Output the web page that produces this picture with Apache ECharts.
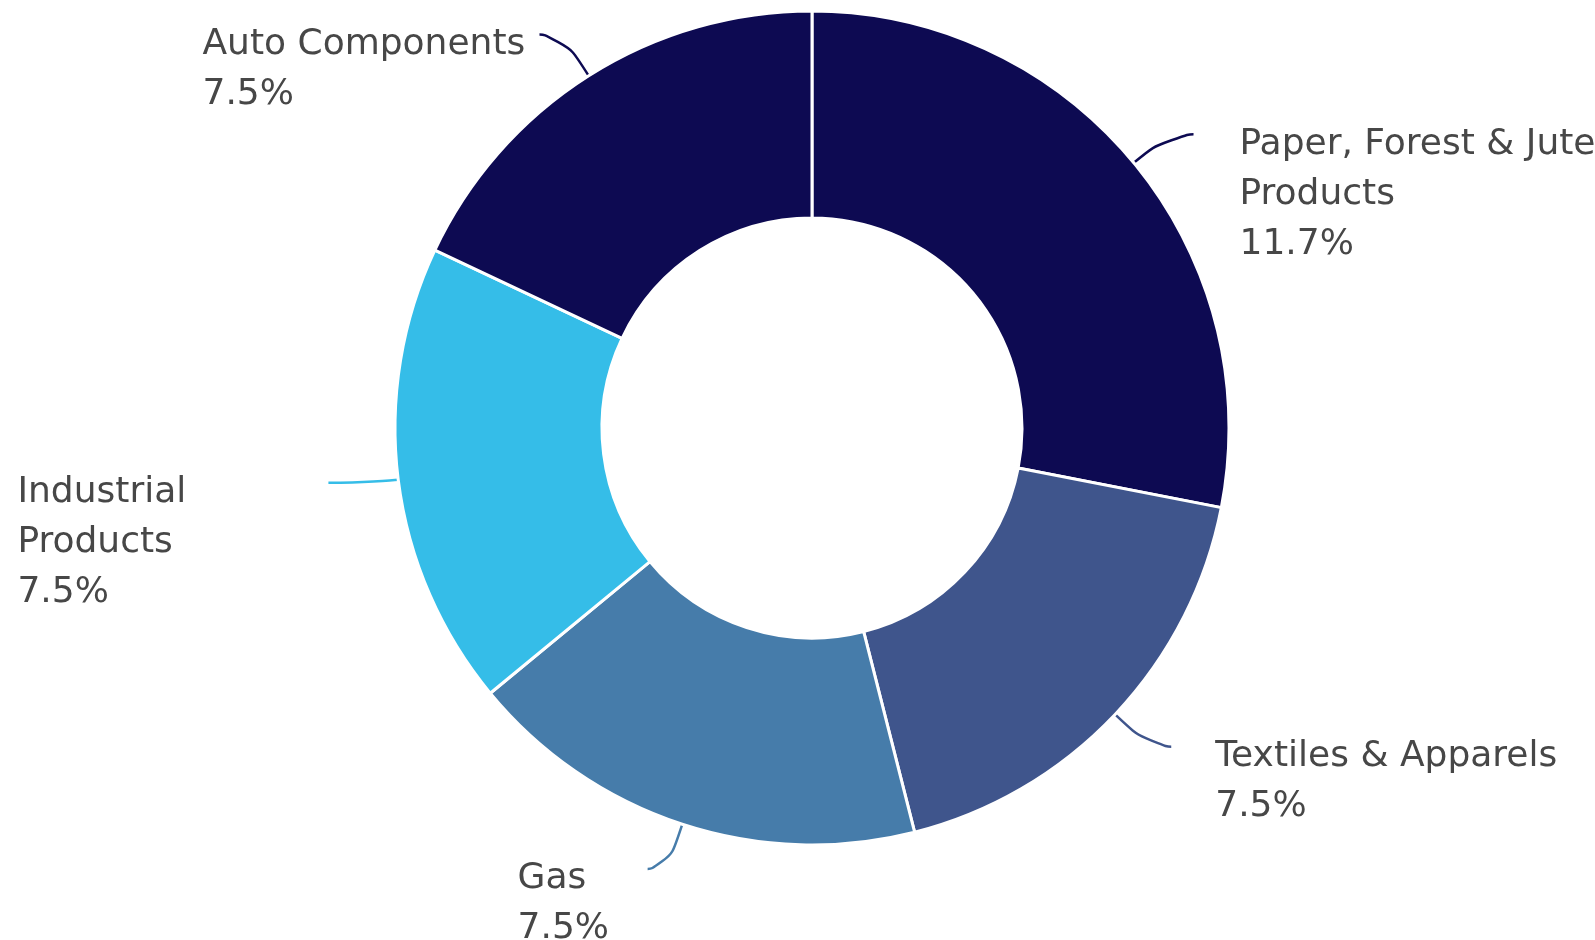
<!DOCTYPE html>
<html>
<head>
<meta charset="utf-8">
<script src="https://cdn.jsdelivr.net/npm/echarts@6/dist/echarts.min.js"></script>
<style>
html,body{margin:0;padding:0;background:#ffffff;}
#chart{width:1595px;height:940px;}
</style>
</head>
<body>
<div id="chart"></div>
<script>
// ---- data ----
const categories = ['Paper, Forest & Jute Products', 'Textiles & Apparels', 'Gas', 'Industrial Products', 'Auto Components'];
const labelNames = ['Paper, Forest & Jute\nProducts', 'Textiles & Apparels', 'Gas', 'Industrial\nProducts', 'Auto Components'];
const values = [11.7, 7.5, 7.5, 7.5, 7.5];
const colors = ['#0d0a52', '#3f558c', '#467caa', '#35bde8', '#0d0a52'];

// ---- label styling (positions/styles only) ----
const LH = 50;
const FS = 36;
const labelCfg = [
  { len: 45, len2: 25, dist: 46, w: null },
  { len: 47, len2: 22, dist: 44, w: null },
  { len: 47, len2: 20, dist: 38, w: 92 },
  { len: 25, len2: 45, dist: 136, w: 175 },
  { len: 49, len2: 23, dist: 12, w: 325 }
];

const data = categories.map((name, i) => {
  const lines = (labelNames[i] + '\n' + values[i].toFixed(1) + '%').split('\n');
  const cfg = labelCfg[i];
  const rich = { t: { fontSize: FS, lineHeight: LH, color: '#474747', fontFamily: 'DejaVu Sans', align: 'left' } };
  if (cfg.w) rich.t.width = cfg.w;
  return {
    name: name,
    value: values[i],
    itemStyle: { color: colors[i] },
    label: {
      formatter: lines.map(l => '{t|' + l + '}').join('\n'),
      rich: rich,
      distanceToLabelLine: cfg.dist,
      padding: [(lines.length - 1) * LH + 20, 0, 0, 0]
    },
    labelLine: { length: cfg.len, length2: cfg.len2, lineStyle: { color: colors[i], width: 2.5 } }
  };
});

const chart = echarts.init(document.getElementById('chart'), null, { renderer: 'canvas' });
chart.setOption({
  backgroundColor: '#ffffff',
  animation: false,
  series: [{
    type: 'pie',
    center: [812, 428],
    radius: [210, 417],
    startAngle: 90,
    clockwise: true,
    avoidLabelOverlap: false,
    itemStyle: { borderColor: '#ffffff', borderWidth: 3 },
    label: {
      show: true,
      position: 'outer',
      alignTo: 'none',
      overflow: 'none',
      fontSize: FS,
      lineHeight: LH,
      color: '#474747',
      fontFamily: 'DejaVu Sans'
    },
    labelLine: { show: true, smooth: 0.8 },
    emphasis: { disabled: true },
    data: data
  }]
});
</script>
</body>
</html>
